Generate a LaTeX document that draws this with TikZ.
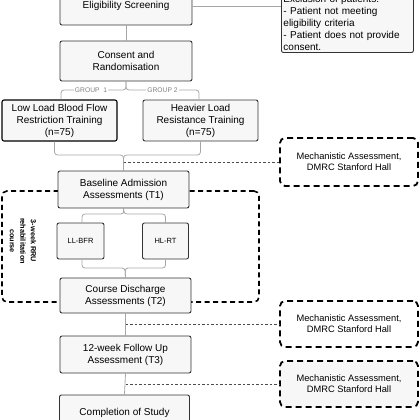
\documentclass[tikz,border=0pt]{standalone}
\usepackage{fontspec}
\setmainfont{Liberation Sans}
\begin{document}
\begin{tikzpicture}[x=1pt,y=-1pt,
  box/.style={draw=black!80, fill=black!3, line width=0.9pt, rounded corners=2pt, align=center, inner sep=1pt, font=\fontsize{10}{12}\selectfont},
  smallbox/.style={box, font=\fontsize{7.5}{9}\selectfont},
  conn/.style={draw=black!35, line width=0.8pt, rounded corners=3pt},
  dconn/.style={draw=black!70, line width=0.7pt, dash pattern=on 2.5pt off 2pt},
  mech/.style={draw=black, line width=1.8pt, dash pattern=on 6pt off 4pt, rounded corners=5pt, fill=white, align=center, font=\fontsize{9.3}{11}\selectfont},
  rehabframe/.style={draw=black, line width=1.6pt, dash pattern=on 5pt off 3.5pt, rounded corners=5pt},
  grp/.style={fill=white, text=black!50, font=\fontsize{6.7}{7}\selectfont, inner sep=1pt},
]
\useasboundingbox (0,0) rectangle (420,420);

% rehabilitation course frame
\node[rehabframe, minimum width=257, minimum height=111, inner sep=0pt] (rehab) at (130.5,246.5) {};
\node[rotate=-90, align=center, font=\bfseries\fontsize{7.3}{10.5}\selectfont] (rehabtxt) at (23,241) {3-week RRU\\rehabilitation\\course};

% main boxes
\node[box, minimum width=132, minimum height=38] (elig) at (126,6) {Eligibility Screening};
\node[box, align=left, text width=128pt, anchor=south west, inner sep=2pt] (excl) at (281,53)
  {Exclusion of patients:\\- Patient not meeting\\eligibility criteria\\- Patient does not provide\\consent.};
\node[box, minimum width=132, minimum height=40] (consent) at (126,61) {Consent and\\Randomisation};
\node[box, draw=black, line width=1.1pt, minimum width=115, minimum height=41] (ll) at (59.5,120.5) {Low Load Blood Flow\\Restriction Training\\(n=75)};
\node[box, minimum width=115, minimum height=41] (hl) at (200.5,120.5) {Heavier Load\\Resistance Training\\(n=75)};
\node[box, minimum width=131, minimum height=37] (base) at (123.5,189.5) {Baseline Admission\\Assessments (T1)};
\node[smallbox, minimum width=47, minimum height=36] (lb) at (80.5,241) {LL-BFR};
\node[smallbox, minimum width=46, minimum height=36] (hr) at (165.5,241) {HL-RT};
\node[box, minimum width=131, minimum height=35] (dis) at (125.5,295.5) {Course Discharge\\Assessments (T2)};
\node[box, minimum width=131, minimum height=37] (fu) at (125.5,354.5) {12-week Follow Up\\Assessment (T3)};
\node[box, minimum width=130, minimum height=36] (comp) at (124.5,413) {Completion of Study};

% mechanistic boxes
\node[mech, minimum width=138, minimum height=48] (mech1) at (349,162) {Mechanistic Assessment,\\DMRC Stanford Hall};
\node[mech, minimum width=138, minimum height=46] (mech2) at (349,324) {Mechanistic Assessment,\\DMRC Stanford Hall};
\node[mech, fill=black!3, minimum width=138, minimum height=46] (mech3) at (349,384) {Mechanistic Assessment,\\DMRC Stanford Hall};

% connectors
\draw[conn] (elig.east) -- (elig.east -| excl.west);
\draw[conn] (elig.south) -- (consent.north);

\coordinate (g) at (126,90);
\draw[conn] (consent.south) -- (g) -| ([xshift=1.5pt]ll.north);
\draw[conn] (consent.south) -- (g) -| ([xshift=-1.5pt]hl.north);
\node[grp] (g1) at (91,90) {GROUP\ \ 1};
\node[grp] (g2) at (162.5,90) {GROUP 2};

\coordinate (m1) at (123.5,155);
\draw[conn] ([xshift=-5pt]ll.south) |- (m1) -- (base.north);
\draw[conn] (hl.south) |- (m1) -- (base.north);
\draw[dconn] (m1 |- mech1.west) -- (mech1.west);

\coordinate (s2) at (124,214);
\draw[conn] (base.south) -- (s2) -| ([xshift=1.5pt]lb.north);
\draw[conn] (base.south) -- (s2) -| (hr.north);

\coordinate (m2) at (125,268);
\draw[conn] ([xshift=1.5pt]lb.south) |- (m2) -- (dis.north);
\draw[conn] (hr.south) |- (m2) -- (dis.north);

\draw[conn] (dis.south) -- (fu.north);
\draw[dconn] (dis.south |- mech2.west) -- (mech2.west);
\draw[conn] (fu.south) -- (comp.north);
\draw[dconn] (fu.south |- mech3.west) -- (mech3.west);
\end{tikzpicture}
\end{document}
